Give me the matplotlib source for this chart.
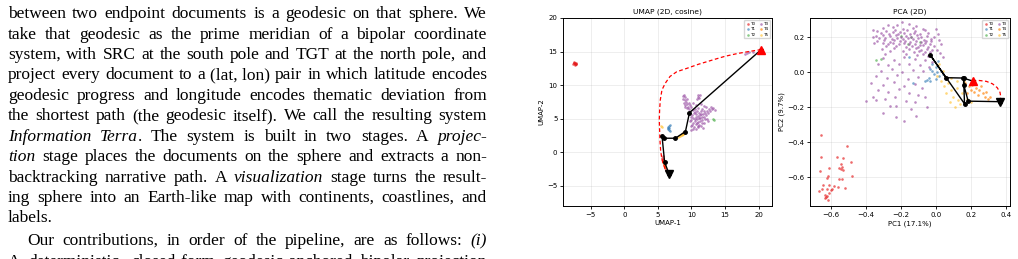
import matplotlib
matplotlib.use('Agg')
import matplotlib.pyplot as plt

W, H = 1018, 259
TXT_SIZE = 12.5

# ---------------- text column (left half of the page) ----------------
# *...* marks italic runs, ~ is a space that is not stretched
text_lines = [
    "between two endpoint documents is a geodesic on that sphere. We",
    "take that geodesic as the prime meridian of a bipolar coordinate",
    "system, with SRC at the south pole and TGT at the north pole, and",
    "project every document to a (lat,~lon) pair in which latitude encodes",
    "geodesic progress and longitude encodes thematic deviation from",
    "the shortest path (the geodesic itself). We call the resulting system",
    "*Information Terra*. The system is built in two stages. A *projec-*",
    "*tion* stage places the documents on the sphere and extracts a non-",
    "backtracking narrative path. A *visualization* stage turns the result-",
    "ing sphere into an Earth-like map with continents, coastlines, and",
    "labels.",
    "Our contributions, in order of the pipeline, are as follows: *(i)*",
    "A deterministic, closed-form geodesic-anchored bipolar projection",
]
line_base_px = [18.3, 38.7, 59.1, 79.5, 99.9, 120.3, 140.7, 161.1, 181.5,
                201.9, 222.3, 245.0, 265.5]
line_justify = [True] * 10 + [False, True, True]
line_indent = [0] * 11 + [19, 0]

# ---------------- UMAP (2D, cosine) ----------------
umap_t0 = [(-7.6, 13.1), (-7.5, 13.3), (-7.4, 13.2), (-7.3, 13.35), (-7.2, 13.2),
           (-7.35, 13.05), (-7.55, 13.25), (-7.25, 13.1), (-7.45, 13.4), (-7.15, 13.3),
           (5.7, -0.6), (5.75, -1.0), (5.8, -1.4), (5.9, -1.8), (6.0, -2.1),
           (5.7, -1.2), (6.1, -2.4), (5.6, -0.9), (5.85, -1.6), (6.2, -2.6)]
umap_t1 = [(6.7, 3.9), (6.55, 3.7), (6.5, 3.5), (6.65, 3.3), (6.85, 3.25),
           (6.6, 3.6), (6.8, 4.0), (6.45, 3.6)]
umap_t2 = [(13.2, 4.9), (13.3, 4.85)]
umap_t3 = [(8.7, 8.4), (8.9, 8.6), (9.1, 8.3), (8.8, 8.0), (9.0, 7.8), (9.3, 8.0),
           (9.2, 7.5), (8.9, 7.3), (9.4, 7.2), (9.1, 7.0), (9.6, 7.4), (9.5, 6.8),
           (9.3, 6.6), (9.7, 6.5), (9.0, 6.7), (9.8, 7.0), (10.0, 6.7),
           (10.9, 8.5), (11.0, 8.3), (11.1, 8.1), (10.8, 7.9), (11.2, 8.6),
           (10.2, 6.3), (10.5, 6.5), (10.8, 6.2), (11.0, 6.6), (10.4, 5.9), (10.7, 5.7),
           (11.1, 5.9), (11.4, 6.1), (10.1, 5.6), (10.6, 5.3), (10.9, 5.4), (11.3, 5.5),
           (11.7, 5.7), (12.0, 5.9), (10.3, 5.1), (10.8, 4.9), (11.2, 5.1), (11.5, 5.2),
           (11.9, 5.3), (12.2, 5.5), (10.0, 4.8), (10.5, 4.6), (10.9, 4.5), (11.3, 4.7),
           (11.6, 4.8), (12.0, 4.9), (10.2, 4.3), (10.7, 4.2), (11.1, 4.1), (11.5, 4.3),
           (11.8, 4.4), (10.0, 3.9), (10.4, 3.8), (10.9, 3.7), (11.4, 3.9), (10.2, 3.5),
           (10.6, 3.4), (9.9, 3.3), (10.1, 4.0), (9.8, 4.6),
           (12.3, 6.2), (12.6, 6.5), (12.9, 6.8), (13.2, 6.6), (13.5, 6.3), (12.8, 6.1),
           (12.5, 5.8), (13.0, 6.4), (11.6, 6.4), (12.1, 6.7), (10.6, 7.0), (11.4, 7.2),
           (9.9, 5.2), (12.3, 5.0), (12.4, 4.6), (10.3, 7.3), (11.8, 6.9), (11.0, 3.9),
           (11.7, 3.6), (10.45, 4.95), (11.05, 5.15), (10.75, 4.4), (11.35, 5.75),
           (10.55, 6.05), (11.85, 6.15),
           (18.3, 14.8), (18.6, 14.9), (18.0, 14.7), (19.2, 15.0)]
umap_t4 = [(5.8, -1.5), (5.95, -1.9), (6.05, -2.2), (5.9, -1.3), (6.1, -2.0),
           (8.6, 2.7), (8.8, 2.85)]
umap_t5 = [(5.6, 3.8), (5.5, 3.9), (8.0, 2.3), (8.2, 2.4), (8.4, 2.55), (8.6, 2.65),
           (8.8, 2.8), (9.0, 3.0), (8.3, 2.45), (8.7, 2.75)]
umap_path_x = [20.4, 9.7, 9.1, 7.6, 5.9, 5.6, 6.0, 6.7]
umap_path_y = [15.3, 5.9, 3.1, 2.1, 2.1, 2.5, -1.5, -3.3]
umap_geo_x = [20.4, 18.5, 16.8, 15.0, 13.3, 11.0, 9.3, 7.8, 6.8, 6.1, 5.6, 5.35,
              5.25, 5.2, 5.25, 5.3, 5.4, 5.6, 6.0, 6.7]
umap_geo_y = [15.3, 15.0, 14.7, 14.3, 13.8, 13.1, 12.5, 12.0, 11.3, 10.3, 9.3, 7.8,
              6.3, 4.8, 3.3, 1.8, 0.3, -1.1, -2.3, -3.3]

# ---------------- PCA (2D) ----------------
pca_t0 = [(-0.655, -0.36), (-0.505, -0.421), (-0.655, -0.482), (-0.566, -0.486),
          (-0.531, -0.492), (-0.484, -0.514), (-0.541, -0.524), (-0.61, -0.547),
          (-0.551, -0.547), (-0.535, -0.543), (-0.543, -0.555), (-0.661, -0.562),
          (-0.528, -0.56), (-0.477, -0.593), (-0.617, -0.593), (-0.623, -0.604),
          (-0.553, -0.608), (-0.535, -0.611), (-0.608, -0.642), (-0.646, -0.646),
          (-0.583, -0.65), (-0.557, -0.654), (-0.518, -0.661), (-0.648, -0.669),
          (-0.623, -0.669), (-0.593, -0.665), (-0.669, -0.677), (-0.608, -0.688),
          (-0.633, -0.699), (-0.619, -0.705), (-0.634, -0.718), (-0.615, -0.73),
          (-0.6, -0.675), (-0.625, -0.715)]
pca_t1 = [(-0.02, 0.05), (0.0, 0.03), (-0.03, 0.02), (0.01, 0.0), (-0.01, -0.01),
          (0.02, -0.02), (-0.04, -0.03), (0.03, 0.01), (-0.06, -0.05), (-0.03, -0.05),
          (0.0, -0.04), (0.04, -0.01), (-0.02, 0.01), (-0.155, 0.085), (-0.13, -0.063),
          (-0.05, -0.044), (0.015, 0.065)]
pca_t2 = [(-0.31, 0.074), (-0.16, 0.16), (-0.09, 0.175), (-0.14, 0.2), (-0.34, 0.07),
          (-0.2, 0.21)]
pca_t3 = [(-0.27, 0.272), (-0.22, 0.268), (-0.155, 0.278), (-0.11, 0.262), (-0.195, 0.285),
          (-0.30, 0.252), (-0.245, 0.258), (-0.185, 0.25), (-0.128, 0.255), (-0.075, 0.247),
          (-0.335, 0.238), (-0.282, 0.236), (-0.232, 0.244), (-0.203, 0.232), (-0.162, 0.241),
          (-0.118, 0.235), (-0.058, 0.242), (-0.312, 0.224), (-0.268, 0.221), (-0.241, 0.229),
          (-0.213, 0.218), (-0.178, 0.226), (-0.148, 0.219), (-0.121, 0.227), (-0.088, 0.216),
          (-0.041, 0.222), (-0.342, 0.208), (-0.301, 0.212), (-0.262, 0.205), (-0.228, 0.211),
          (-0.198, 0.203), (-0.171, 0.209), (-0.139, 0.201), (-0.109, 0.212), (-0.081, 0.204),
          (-0.052, 0.21), (-0.322, 0.193), (-0.287, 0.198), (-0.251, 0.19), (-0.219, 0.196),
          (-0.188, 0.189), (-0.158, 0.197), (-0.131, 0.188), (-0.098, 0.195), (-0.069, 0.187),
          (-0.028, 0.192), (-0.333, 0.178), (-0.294, 0.182), (-0.262, 0.175), (-0.236, 0.183),
          (-0.205, 0.176), (-0.176, 0.181), (-0.147, 0.174), (-0.113, 0.179), (-0.084, 0.172),
          (-0.057, 0.18), (-0.024, 0.176), (-0.303, 0.165), (-0.271, 0.161), (-0.243, 0.168),
          (-0.212, 0.162), (-0.183, 0.166), (-0.152, 0.159), (-0.119, 0.164), (-0.091, 0.158),
          (-0.062, 0.166), (-0.033, 0.161), (-0.283, 0.148), (-0.224, 0.152), (-0.171, 0.145),
          (-0.133, 0.151), (-0.102, 0.146), (-0.071, 0.153), (-0.043, 0.144), (-0.012, 0.149),
          (-0.308, 0.132), (-0.238, 0.138), (-0.152, 0.131), (-0.112, 0.136), (-0.081, 0.129),
          (-0.052, 0.134), (-0.021, 0.128), (-0.262, 0.119), (-0.188, 0.122), (-0.124, 0.115),
          (-0.094, 0.121), (-0.063, 0.113), (-0.032, 0.118), (-0.291, 0.104), (-0.168, 0.102),
          (-0.104, 0.098), (-0.072, 0.106), (-0.043, 0.095),
          (0.003, 0.245), (0.012, 0.22), (0.02, 0.185), (-0.01, 0.2), (0.03, 0.16),
          (0.005, 0.13), (0.025, 0.11), (0.04, 0.09), (-0.36, 0.2), (-0.35, 0.17), (-0.36, 0.24),
          (-0.30, 0.08), (-0.24, 0.07), (-0.18, 0.085), (-0.12, 0.075), (-0.06, 0.07),
          (-0.02, 0.06), (-0.33, 0.05), (-0.27, 0.04), (-0.21, 0.05), (-0.15, 0.045),
          (-0.09, 0.04), (-0.04, 0.03), (-0.31, 0.01), (-0.25, 0.02), (-0.19, 0.0),
          (-0.13, 0.015), (-0.07, 0.005), (-0.34, -0.02), (-0.28, -0.03), (-0.22, -0.015),
          (-0.16, -0.04), (-0.10, -0.025), (-0.37, -0.06), (-0.30, -0.07), (-0.24, -0.055),
          (-0.18, -0.08), (-0.12, -0.065), (-0.08, -0.09), (-0.33, -0.10), (-0.27, -0.11),
          (-0.21, -0.095), (-0.15, -0.12), (-0.10, -0.13), (-0.36, -0.14), (-0.29, -0.15),
          (-0.23, -0.14), (-0.17, -0.165), (-0.12, -0.17), (-0.341, -0.158), (-0.26, -0.19),
          (-0.227, -0.193), (-0.14, -0.21), (-0.30, -0.234), (-0.227, -0.254), (-0.18, -0.28),
          (-0.11, -0.25), (-0.40, -0.165), (-0.06, -0.14), (-0.05, -0.2)]
pca_t4 = [(0.17, -0.06), (0.19, -0.08), (0.21, -0.07), (0.23, -0.09), (0.22, -0.11),
          (0.25, -0.10), (0.27, -0.12), (0.24, -0.13), (0.28, -0.14), (0.30, -0.15),
          (0.31, -0.14), (0.26, -0.08), (0.20, -0.10), (0.29, -0.11), (0.18, -0.12)]
pca_t5 = [(0.01, -0.02), (0.03, -0.05), (0.05, -0.08), (0.07, -0.06), (0.09, -0.1),
          (0.06, -0.12), (0.1, -0.14), (0.12, -0.09), (0.13, -0.16), (0.15, -0.12),
          (0.11, -0.2), (0.14, -0.18), (0.08, -0.17), (0.16, -0.05), (0.18, -0.15),
          (0.2, -0.17), (0.04, 0.01), (0.02, 0.05), (0.09, -0.03), (0.12, -0.05)]
pca_path_x = [0.211, 0.158, 0.059, -0.031, 0.165, 0.16, 0.16, 0.186, 0.367]
pca_path_y = [-0.05, -0.033, -0.031, 0.099, -0.18, -0.035, -0.07, -0.165, -0.168]
pca_geo_x = [0.211, 0.25, 0.29, 0.325, 0.352, 0.368, 0.372, 0.367]
pca_geo_y = [-0.05, -0.047, -0.052, -0.066, -0.088, -0.115, -0.14, -0.168]

topic_names = ['T0', 'T1', 'T2', 'T3', 'T4', 'T5']
topic_colors = ['#e41a1c', '#377eb8', '#4daf4a', '#984ea3', '#ff7f00', '#ffc233']


fig = plt.figure(figsize=(W / 100, H / 100), dpi=100)
r = fig.canvas.get_renderer()

# justified paragraph text, placed word by word
italic = False
for line, yb, just, ind in zip(text_lines, line_base_px, line_justify, line_indent):
    words = []
    for w in line.split(' '):
        runs = []
        for k, piece in enumerate(w.split('*')):
            if k > 0:
                italic = not italic
            if piece:
                t = fig.text(0, 1 - yb / H, piece.replace('~', ' '), fontsize=TXT_SIZE,
                             family='Liberation Serif', style='italic' if italic else 'normal',
                             va='baseline', ha='left')
                runs.append((t, t.get_window_extent(r).width))
        words.append(runs)
    widths = [sum(wd for _, wd in runs) for runs in words]
    x0, x1 = 8 + ind, 487
    gap = (x1 - x0 - sum(widths)) / (len(words) - 1) if (just and len(words) > 1) else 4.0
    x = x0
    for runs, wd in zip(words, widths):
        xx = x
        for t, rw in runs:
            t.set_x(xx / W)
            xx += rw
        x += wd + gap


def panel(ax, groups, path_x, path_y, geo_x, geo_y):
    for pts, name, col in zip(groups, topic_names, topic_colors):
        ax.scatter([p[0] for p in pts], [p[1] for p in pts], s=3.5, c=col, alpha=0.65,
                   lw=0, label=name, zorder=2)
    ax.plot(geo_x, geo_y, '--', color='red', lw=0.9, dashes=(3, 2), zorder=3)
    ax.plot(path_x, path_y, '-', color='black', lw=1.0, marker='o', ms=2.5, zorder=4)
    ax.plot(path_x[0], path_y[0], '^', color='red', ms=6, zorder=5)
    ax.plot(path_x[-1], path_y[-1], 'v', color='black', ms=6, zorder=5)
    ax.grid(True, alpha=0.3, lw=0.5)
    ax.tick_params(labelsize=5, length=2.5, width=0.6, pad=1.5)
    for sp in ax.spines.values():
        sp.set_linewidth(0.7)
    ax.legend(loc='upper right', ncol=2, fontsize=3, markerscale=1.0, handletextpad=0.1,
              columnspacing=0.8, borderpad=0.4, labelspacing=0.35, handlelength=1.0,
              framealpha=0.8)


ax1 = fig.add_axes([563 / W, 1 - 206 / H, 209 / W, 188 / H])
panel(ax1, [umap_t0, umap_t1, umap_t2, umap_t3, umap_t4, umap_t5],
      umap_path_x, umap_path_y, umap_geo_x, umap_geo_y)
ax1.set_xlim(-9.15, 22.0)
ax1.set_ylim(-7.99, 19.98)
ax1.set_xticks([-5, 0, 5, 10, 15, 20])
ax1.set_yticks([-5, 0, 5, 10, 15, 20])
ax1.set_title('UMAP (2D, cosine)', fontsize=5.4, pad=3)
ax1.set_xlabel('UMAP-1', fontsize=5, labelpad=2)
ax1.set_ylabel('UMAP-2', fontsize=5, labelpad=2)

ax2 = fig.add_axes([810 / W, 1 - 206 / H, 200 / W, 188 / H])
panel(ax2, [pca_t0, pca_t1, pca_t2, pca_t3, pca_t4, pca_t5],
      pca_path_x, pca_path_y, pca_geo_x, pca_geo_y)
ax2.set_xlim(-0.718, 0.425)
ax2.set_ylim(-0.764, 0.31)
ax2.set_xticks([-0.6, -0.4, -0.2, 0.0, 0.2, 0.4])
ax2.set_yticks([-0.6, -0.4, -0.2, 0.0, 0.2])
ax2.set_title('PCA (2D)', fontsize=5.4, pad=3)
ax2.set_xlabel('PC1 (17.1%)', fontsize=5, labelpad=2)
ax2.set_ylabel('PC2 (9.7%)', fontsize=5, labelpad=2)

fig.savefig('out.png', dpi=100)
